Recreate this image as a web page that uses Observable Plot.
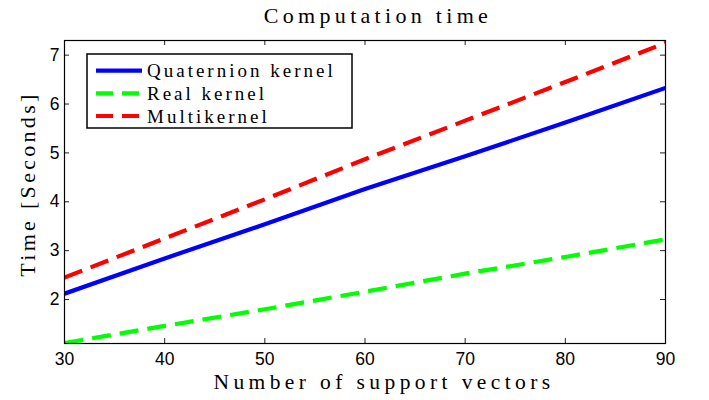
<!DOCTYPE html>
<html>
<head>
<meta charset="utf-8">
<script src="https://cdn.jsdelivr.net/npm/d3@7"></script>
<script src="https://cdn.jsdelivr.net/npm/@observablehq/plot@0.6"></script>
<style>
  html, body { margin: 0; padding: 0; background: #fff; }
  svg { display: block; }
</style>
</head>
<body>
<div id="chart"></div>
<script>
// ---- data ----
const supportVectors = [30, 40, 50, 60, 70, 80, 90];
const quaternionKernel = [2.12, 2.84, 3.54, 4.26, 4.93, 5.62, 6.33];
const realKernel = [1.11, 1.46, 1.80, 2.16, 2.53, 2.87, 3.23];
const multiKernel = [2.45, 3.25, 4.05, 4.87, 5.66, 6.45, 7.25];
const seriesNames = ["Quaternion kernel", "Real kernel", "Multikernel"];
const xTicks = [30, 40, 50, 60, 70, 80, 90];
const yTicks = [2, 3, 4, 5, 6, 7];
const titleText = "Computation time";
const xLabelText = "Number of support vectors";
const yLabelText = "Time [Seconds]";

const colors = ["#0000ff", "#00ff00", "#ff0000"];
const dashes = [null, "19,9", "19,9"];
const seriesValues = [quaternionKernel, realKernel, multiKernel];

const rows = [];
seriesNames.forEach((name, i) => {
  supportVectors.forEach((x, j) => rows.push({series: name, x, y: seriesValues[i][j]}));
});

const W = 709, H = 400;
const mL = 64, mR = 44, mT = 40, mB = 57;
const fw = W - mL - mR, fh = H - mT - mB;
const sans = "'Liberation Sans', Arial, sans-serif";
const serif = "'Liberation Serif', 'Times New Roman', serif";

const lineMarks = seriesNames.map((name, i) =>
  Plot.line(rows.filter(d => d.series === name), {
    x: "x", y: "y",
    stroke: colors[i],
    strokeWidth: 4.2,
    strokeDasharray: dashes[i] || undefined,
    strokeLinecap: "butt",
    strokeLinejoin: "round",
    clip: true
  })
);

const plot = Plot.plot({
  width: W, height: H,
  marginLeft: mL, marginRight: mR, marginTop: mT, marginBottom: mB,
  style: {background: "white", fontFamily: sans},
  x: {domain: [30, 90], label: null},
  y: {domain: [1.1, 7.3], label: null},
  marks: [
    ...lineMarks,
    // inward ticks on all four sides
    Plot.tickX(xTicks, {x: d => d, insetTop: fh - 5, stroke: "#222"}),
    Plot.tickX(xTicks, {x: d => d, insetBottom: fh - 5, stroke: "#222"}),
    Plot.tickY(yTicks, {y: d => d, insetRight: fw - 5, stroke: "#222"}),
    Plot.tickY(yTicks, {y: d => d, insetLeft: fw - 5, stroke: "#222"}),
    Plot.axisX({ticks: xTicks, tickFormat: d => String(d), tickSize: 0, tickPadding: 9, fontSize: 17.5, fontFamily: sans, fill: "#000", label: null}),
    Plot.axisY({ticks: yTicks, tickFormat: d => String(d), tickSize: 0, tickPadding: 5, fontSize: 17.5, fontFamily: sans, fill: "#000", label: null}),
    Plot.frame({stroke: "#000", strokeWidth: 1.2})
  ]
});

document.getElementById("chart").appendChild(plot);
const svg = d3.select(plot);

// title & axis labels
svg.append("text")
  .attr("x", 378).attr("y", 23)
  .attr("text-anchor", "middle")
  .style("font-family", serif).style("font-size", "22px").style("letter-spacing", "4.3px")
  .attr("fill", "#000")
  .text(titleText);

svg.append("text")
  .attr("x", 384).attr("y", 389)
  .attr("text-anchor", "middle")
  .style("font-family", serif).style("font-size", "21.5px").style("letter-spacing", "4.4px")
  .attr("fill", "#000")
  .text(xLabelText);

svg.append("text")
  .attr("transform", "translate(35,184) rotate(-90)")
  .attr("text-anchor", "middle")
  .style("font-family", serif).style("font-size", "22px").style("letter-spacing", "3.3px")
  .attr("fill", "#000")
  .text(yLabelText);

// legend
const lg = svg.append("g");
lg.append("rect")
  .attr("x", 87).attr("y", 54).attr("width", 265).attr("height", 74)
  .attr("fill", "white").attr("stroke", "#000").attr("stroke-width", 1.5);
const rowY = [70.7, 93.3, 116];
seriesNames.forEach((name, i) => {
  lg.append("line")
    .attr("x1", 96).attr("x2", 142).attr("y1", rowY[i]).attr("y2", rowY[i])
    .attr("stroke", colors[i]).attr("stroke-width", 4.2)
    .attr("stroke-dasharray", dashes[i] ? "17,9" : null);
  lg.append("text")
    .attr("x", 147).attr("y", rowY[i] + 6.5)
    .attr("text-anchor", "start")
    .style("font-family", serif).style("font-size", "19px").style("letter-spacing", "3px")
    .attr("fill", "#000")
    .text(name);
});
</script>
</body>
</html>
